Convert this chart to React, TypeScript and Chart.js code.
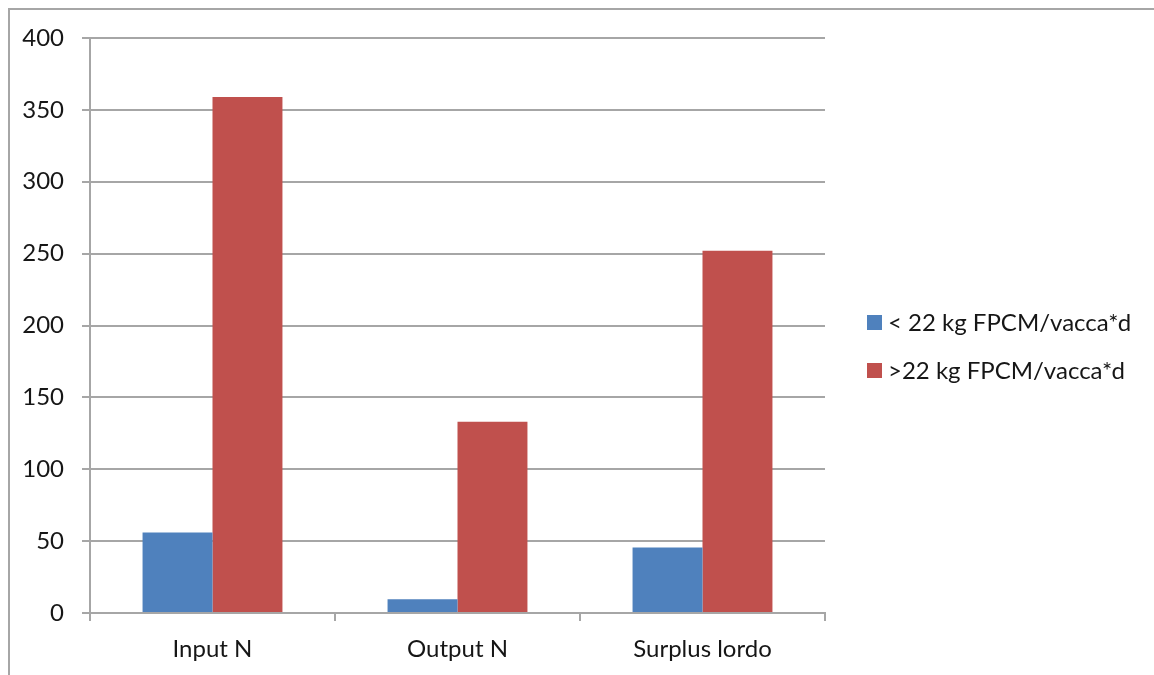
import React, { useEffect, useRef } from "react";
import { Chart, registerables } from "chart.js";

Chart.register(...registerables);

// Nitrogen balance (kg N) by milk-yield class
const categories = ["Input N", "Output N", "Surplus lordo"];
const seriesNames = ["< 22 kg FPCM/vacca*d", ">22 kg FPCM/vacca*d"];
const lowYield = [56, 9.5, 45.5];
const highYield = [359, 133, 252];
const seriesColors = ["#4f81bd", "#c0504d"];
const yTicks = [0, 50, 100, 150, 200, 250, 300, 350, 400];

const FONT = "Lato, 'Open Sans', sans-serif";
const TEXT_COLOR = "#161616";
const LINE_COLOR = "#a6a6a6";

// Legend drawn at the right of the plot, one entry per dataset
const sideLegend = {
  id: "sideLegend",
  afterDraw(chart: any) {
    const { ctx } = chart;
    const x = 857;
    const y0 = 312;
    const step = 48;
    ctx.save();
    ctx.font = `24px ${FONT}`;
    ctx.textBaseline = "middle";
    ctx.textAlign = "left";
    chart.data.datasets.forEach((ds: any, i: number) => {
      const y = y0 + i * step;
      ctx.fillStyle = ds.backgroundColor;
      ctx.fillRect(x, y - 7, 15, 15);
      ctx.fillStyle = TEXT_COLOR;
      ctx.fillText(ds.label, x + 21, y + 1);
    });
    ctx.restore();
  },
};

export default function App() {
  const canvasRef = useRef<HTMLCanvasElement | null>(null);

  useEffect(() => {
    if (!canvasRef.current) return;
    const chart = new Chart(canvasRef.current, {
      type: "bar",
      data: {
        labels: categories,
        datasets: [
          {
            label: seriesNames[0],
            data: lowYield,
            backgroundColor: seriesColors[0],
            categoryPercentage: 0.571,
            barPercentage: 1,
          },
          {
            label: seriesNames[1],
            data: highYield,
            backgroundColor: seriesColors[1],
            categoryPercentage: 0.571,
            barPercentage: 1,
          },
        ],
      },
      options: {
        responsive: false,
        animation: false,
        layout: { padding: { left: 0, top: 28, right: 329, bottom: 0 } },
        plugins: {
          legend: { display: false },
          tooltip: { enabled: false },
        },
        scales: {
          x: {
            grid: {
              offset: true,
              drawOnChartArea: false,
              tickLength: 8,
              color: LINE_COLOR,
              lineWidth: 2,
            },
            border: { display: true, color: LINE_COLOR, width: 2 },
            ticks: {
              padding: 14,
              color: TEXT_COLOR,
              font: { family: FONT, size: 24 },
            },
            afterFit(scale: any) {
              scale.height = 62;
              scale.paddingLeft = 0;
              scale.paddingRight = 0;
            },
          },
          y: {
            min: 0,
            max: 400,
            afterBuildTicks(scale: any) {
              scale.ticks = yTicks.map((v) => ({ value: v }));
            },
            grid: {
              tickLength: 8,
              color: LINE_COLOR,
              lineWidth: 2,
            },
            border: { display: true, color: LINE_COLOR, width: 2 },
            ticks: {
              padding: 18,
              color: TEXT_COLOR,
              font: { family: FONT, size: 24 },
            },
            afterFit(scale: any) {
              scale.width = 80;
              scale.paddingTop = 0;
              scale.paddingBottom = 0;
            },
          },
        },
      },
      plugins: [sideLegend],
    });
    return () => chart.destroy();
  }, []);

  return (
    <div
      style={{
        position: "fixed",
        left: 8,
        top: 8,
        right: 0,
        bottom: 0,
        borderTop: `2px solid ${LINE_COLOR}`,
        borderLeft: `2px solid ${LINE_COLOR}`,
        background: "#fff",
      }}
    >
      <canvas ref={canvasRef} width={1144} height={665} style={{ display: "block" }} />
    </div>
  );
}
